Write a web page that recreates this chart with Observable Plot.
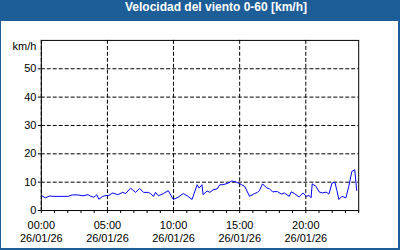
<!DOCTYPE html>
<html>
<head>
<meta charset="utf-8">
<script src="https://cdn.jsdelivr.net/npm/d3@7"></script>
<script src="https://cdn.jsdelivr.net/npm/@observablehq/plot@0.6"></script>
<style>
  html, body { margin: 0; padding: 0; background: #fff; }
  #wrap { position: relative; width: 400px; height: 250px; box-sizing: border-box; background: #fff;
          border-left: 1px solid #1e5e98; border-right: 2px solid #1e5e98; border-bottom: 2px solid #1e5e98; overflow: hidden; }
  #title { height: 21px; line-height: 21px; background: #1e5e98; color: #fff; font: bold 12px "Liberation Sans", Arial, sans-serif;
           text-align: center; padding-left: 32px; margin-left: -1px; margin-right: -2px; }
  #chart { position: absolute; left: -1px; top: 21px; }
  #chart svg { display: block; }
</style>
</head>
<body>
<div id="wrap">
  <div id="title">Velocidad del viento 0-60 [km/h]</div>
  <div id="chart"></div>
</div>
<script>
const times = ["00:00","00:18","00:36","00:58","01:30","02:02","02:20","02:47","03:09","03:32","03:45","03:59",
  "04:12","04:21","04:39","04:53","05:06","05:24","05:47","06:09","06:23","06:45","07:08","07:26","07:44",
  "08:06","08:15","08:29","08:38","08:51","09:14","09:36","09:59","10:21","10:44","11:02","11:24","11:47",
  "11:56","12:09","12:14","12:32","12:45","12:59","13:17","13:30","13:44","14:06","14:24","14:38","14:51",
  "15:09","15:23","15:45","16:08","16:21","16:30","16:44","17:02","17:15","17:29","17:51","18:09","18:23",
  "18:45","18:54","19:08","19:30","19:48","20:02","20:15","20:24","20:29","20:47","21:00","21:14","21:32",
  "21:45","21:59","22:12","22:21","22:30","22:44","23:02","23:15","23:29","23:42","23:51"];
const speeds = [5.3,4.5,5.1,5.0,5.0,5.0,5.5,5.5,5.2,5.6,5.0,4.7,
  5.6,4.0,5.0,5.3,5.3,6.2,5.6,6.4,6.0,7.9,6.4,7.8,6.4,
  6.4,6.0,5.0,6.4,5.2,6.0,7.0,3.9,4.7,6.0,5.2,3.9,9.1,
  7.9,9.1,5.6,6.9,6.4,7.3,7.6,9.1,9.1,9.6,10.4,10.2,9.8,
  9.1,8.5,5.0,6.0,6.4,7.1,9.4,8.0,7.7,6.6,6.7,5.8,6.2,
  5.0,6.6,6.0,4.8,6.2,5.0,5.3,4.5,9.4,8.5,6.6,6.2,6.5,
  5.8,9.7,10.0,7.1,3.9,5.0,4.5,8.5,13.8,14.4,7.1];
const day = "2026-01-26";
const yTicks = [0, 10, 20, 30, 40, 50];
const yGrid = [10, 20, 30, 40, 50];
const yLabel = "km/h";

const data = times.map((t, i) => ({date: new Date(`${day}T${t}:00Z`), speed: speeds[i]}));
const start = new Date(`${day}T00:00:00Z`);
const end = d3.utcDay.offset(start, 1);
const fmt = d => d3.utcFormat("%H:%M")(d) + "\n" + d3.utcFormat("%d/%m/%y")(d);
const majorTicks = d3.utcHours(start, end, 5);
const minorTicks = d3.utcHours(start, d3.utcHour.offset(end, 1), 1);

const chart = Plot.plot({
  width: 400,
  height: 229,
  marginTop: 19,
  marginBottom: 39,
  marginLeft: 41,
  marginRight: 40,
  style: {fontFamily: "'Liberation Sans', Arial, sans-serif", fontSize: "11px", color: "#000", background: "transparent"},
  x: {type: "utc", domain: [start, end]},
  y: {domain: [0, 60]},
  marks: [
    Plot.gridX(majorTicks, {stroke: "#000", strokeOpacity: 1, strokeDasharray: "4,2"}),
    Plot.gridY(yGrid, {stroke: "#000", strokeOpacity: 1, strokeDasharray: "4,2"}),
    Plot.axisX({ticks: minorTicks, tickSize: 3, text: null, label: null}),
    Plot.axisX({ticks: majorTicks, tickSize: 0, tickPadding: 10, tickFormat: fmt, lineHeight: 1.15, label: null}),
    Plot.axisY({ticks: yTicks, tickSize: 3, tickPadding: 2, label: null}),
    Plot.text([yLabel], {frameAnchor: "top-left", textAnchor: "end", lineAnchor: "middle", dx: -5, dy: 6}),
    Plot.line(data, {x: "date", y: "speed", stroke: "#0000ff", strokeWidth: 1}),
    Plot.frame({stroke: "#000"})
  ]
});
document.getElementById("chart").append(chart);
</script>
</body>
</html>
